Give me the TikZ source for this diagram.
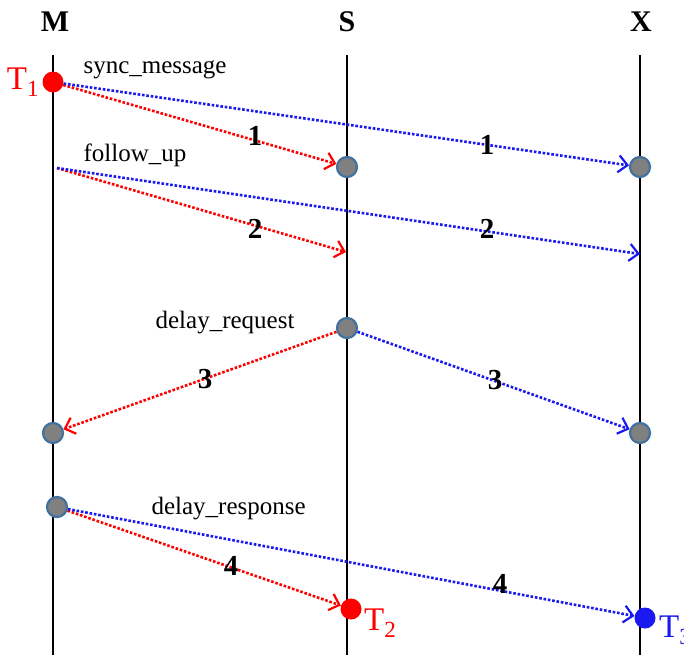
\documentclass[tikz,border=0pt]{standalone}
\usepackage{fontspec}
\setmainfont{Liberation Serif}
\usepackage{xcolor}
\usepackage{tikz}
\usetikzlibrary{arrows.meta, positioning}

\definecolor{dotedge}{RGB}{65,113,156}
\definecolor{msgblue}{RGB}{25,25,240}

\begin{document}
\begin{tikzpicture}[
    x=1pt, y=-1pt,
    header/.style={font=\fontsize{30}{32}\selectfont\bfseries},
    lifeline/.style={line width=2.5pt, draw=black},
    event/.style={circle, fill=gray, draw=dotedge, line width=2.2pt, minimum size=20pt, inner sep=0pt},
    stamp/.style={circle, minimum size=21pt, inner sep=0pt},
    msg_label/.style={font=\fontsize{25}{28}\selectfont},
    num/.style={font=\fontsize{29}{31}\selectfont\bfseries},
    tlabel/.style={font=\fontsize{33}{35}\selectfont, inner sep=0pt},
    msgline/.style={-{Straight Barb[length=9pt, width=17pt, line width=2.2pt]}, line width=2.6pt, dash pattern=on 2.6pt off 1.8pt},
    redmsg/.style={msgline, red},
    bluemsg/.style={msgline, msgblue}
]
    \useasboundingbox (0,0) rectangle (684,654);

    % --- HEADERS AND LIFELINES ---
    \node[header] (hM) at (55,22) {M};
    \node[header] (hS) at (347,22) {S};
    \node[header] (hX) at (641,22) {X};

    \coordinate (mTop) at (53,55);   \coordinate (mBot) at (53,660);
    \coordinate (sTop) at (347,55);  \coordinate (sBot) at (347,660);
    \coordinate (xTop) at (640,55);  \coordinate (xBot) at (640,660);

    \draw[lifeline] (mTop) -- (mBot);
    \draw[lifeline] (sTop) -- (sBot);
    \draw[lifeline] (xTop) -- (xBot);

    % --- EVENTS ---
    \node[stamp, fill=red] (t1) at (53,82) {};
    \node[tlabel, red, left=3pt of t1] (t1lab) {T\textsubscript{1}};

    \node[event] (s1) at (347,167) {};
    \node[event] (x1) at (640,167) {};

    \coordinate (fup) at (57,168);
    \coordinate (s2) at (346,252);
    \coordinate (x2) at (640,254);

    \node[event] (s3) at (347,328) {};
    \node[event] (m3) at (53,433) {};
    \node[event] (x3) at (640,433) {};

    \node[event] (m4) at (57,507) {};
    \node[stamp, fill=red] (t2) at (351,609) {};
    \node[tlabel, red, anchor=west] (t2lab) at (364,623) {T\textsubscript{2}};
    \node[stamp, fill=msgblue] (t3) at (645,618) {};
    \node[tlabel, msgblue, anchor=west] (t3lab) at (659,630) {T\textsubscript{3}};

    % --- MESSAGE NAMES ---
    \node[msg_label, anchor=west] (syncLab) at (80,70) {sync\_message};
    \node[msg_label, anchor=west] (fupLab) at (80,155) {follow\_up};
    \node[msg_label, anchor=east] (dreqLab) at (298,323) {delay\_request};
    \node[msg_label, anchor=west] (drespLab) at (148,509) {delay\_response};

    % --- MESSAGES ---
    \draw[redmsg] (t1) -- (s1);
    \draw[bluemsg] (t1) -- (x1);

    \draw[redmsg] (fup) -- (s2);
    \draw[bluemsg] (fup) -- (x2);

    \draw[redmsg] (s3) -- (m3);
    \draw[bluemsg] (s3) -- (x3);

    \draw[redmsg] (m4) -- (t2);
    \draw[bluemsg] (m4) -- (t3);

    % --- STEP NUMBERS ---
    \node[num] (n1a) at (255,136) {1};
    \node[num] (n1b) at (487,145) {1};
    \node[num] (n2a) at (255,229) {2};
    \node[num] (n2b) at (487,229) {2};
    \node[num] (n3a) at (205,379) {3};
    \node[num] (n3b) at (495,380) {3};
    \node[num] (n4a) at (231,566) {4};
    \node[num] (n4b) at (500,584) {4};

\end{tikzpicture}
\end{document}
